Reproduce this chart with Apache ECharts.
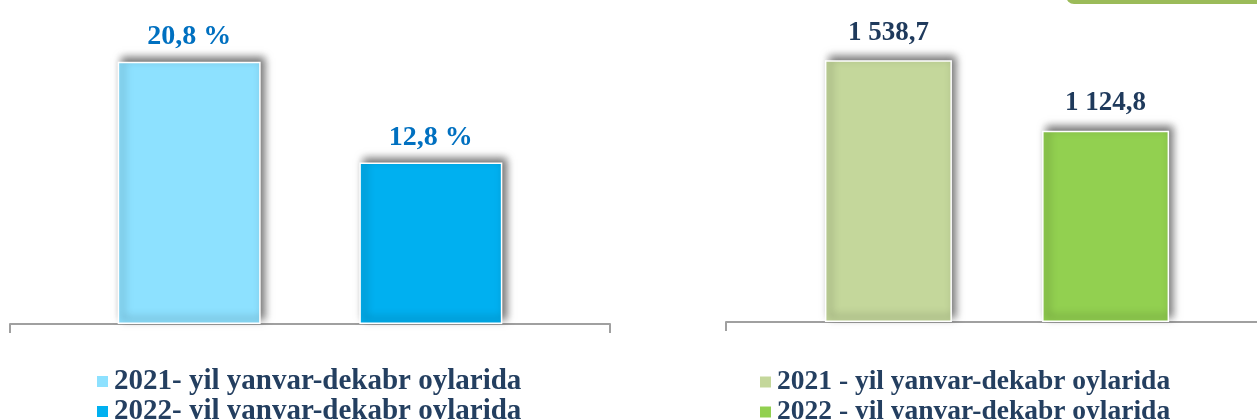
<!DOCTYPE html>
<html>
<head>
<meta charset="utf-8">
<script src="https://cdn.jsdelivr.net/npm/echarts@6/dist/echarts.min.js"></script>
<style>
  html, body { margin: 0; padding: 0; background: #fff; }
  #main { width: 1257px; height: 419px; }
</style>
</head>
<body>
<div id="main"></div>
<script>
// data
var leftNames = ['2021- yil yanvar-dekabr oylarida', '2022- yil yanvar-dekabr oylarida'];
var leftValues = [20.8, 12.8];
var leftColors = ['#8de1ff', '#00b0f0'];

var rightNames = ['2021 - yil yanvar-dekabr oylarida', '2022 - yil yanvar-dekabr oylarida'];
var rightValues = [1538.7, 1124.8];
var rightColors = ['#c4d79b', '#92d050'];

var categories = [''];

var myChart = echarts.init(document.getElementById('main'));

function fmtPct(p) {
  return String(p.value.toFixed(1)).replace('.', ',') + ' %';
}
function fmtNum(p) {
  var parts = p.value.toFixed(1).split('.');
  var intPart = parts[0].replace(/\B(?=(\d{3})+(?!\d))/g, ' ');
  return intPart + ',' + parts[1];
}

var fontFam = '"Liberation Serif", "Times New Roman", serif';

function barItem(color) {
  return {
    color: color,
    borderColor: '#ffffff',
    borderWidth: 1.5,
    shadowColor: 'rgba(0,0,0,0.55)',
    shadowBlur: 8,
    shadowOffsetX: 4,
    shadowOffsetY: -4
  };
}

var series = [];
leftNames.forEach(function (n, i) {
  series.push({
    name: n,
    type: 'bar',
    xAxisIndex: 0,
    yAxisIndex: 0,
    barWidth: 143,
    barGap: '69%',
    data: [leftValues[i]],
    itemStyle: barItem(leftColors[i]),
    label: {
      show: true,
      position: 'top',
      distance: 11,
      formatter: fmtPct,
      color: '#0070c0',
      fontFamily: fontFam,
      fontWeight: 'bold',
      fontSize: 28
    }
  });
});
rightNames.forEach(function (n, i) {
  series.push({
    name: n,
    type: 'bar',
    xAxisIndex: 1,
    yAxisIndex: 1,
    barWidth: 127,
    barGap: '71%',
    data: [rightValues[i]],
    itemStyle: barItem(rightColors[i]),
    label: {
      show: true,
      position: 'top',
      distance: 14,
      formatter: fmtNum,
      color: '#1f3a5c',
      fontFamily: fontFam,
      fontWeight: 'bold',
      fontSize: 27
    }
  });
});

// one legend per row
function legendRow(name, left, top, size) {
  return {
    data: [name],
    left: left,
    top: top,
    icon: 'rect',
    itemWidth: 13,
    itemHeight: 13,
    itemGap: 6,
    textStyle: {
      color: '#243f60',
      fontFamily: fontFam,
      fontWeight: 'bold',
      fontSize: size
    }
  };
}

var option = {
  animation: false,
  graphic: [{
    type: 'rect',
    shape: { x: 1066, y: -12, width: 210, height: 16, r: 9 },
    style: { fill: '#9bbb59' }
  }],
  legend: [
    legendRow(leftNames[0], 90, 362, 29),
    legendRow(leftNames[1], 90, 392, 29),
    legendRow(rightNames[0], 753, 363, 27.5),
    legendRow(rightNames[1], 753, 393, 27.5)
  ],
  grid: [
    { left: 10, top: 20, width: 600, bottom: 95, outerBoundsMode: 'none' },
    { left: 726, top: 20, right: -11, bottom: 97, outerBoundsMode: 'none' }
  ],
  xAxis: [{
    type: 'category',
    gridIndex: 0,
    data: categories,
    axisLine: { lineStyle: { color: '#a0a0a0', width: 2 } },
    axisTick: { show: true, length: 9, lineStyle: { color: '#a0a0a0', width: 2 } },
    axisLabel: { show: false }
  }, {
    type: 'category',
    gridIndex: 1,
    data: categories,
    axisLine: { lineStyle: { color: '#a0a0a0', width: 2 } },
    axisTick: { show: true, length: 9, lineStyle: { color: '#a0a0a0', width: 2 } },
    axisLabel: { show: false }
  }],
  yAxis: [{
    type: 'value',
    gridIndex: 0,
    min: 0,
    max: 24.1,
    show: false,
    splitLine: { show: false }
  }, {
    type: 'value',
    gridIndex: 1,
    min: 0,
    max: 1776,
    show: false,
    splitLine: { show: false }
  }],
  series: series
};

myChart.setOption(option);
</script>
</body>
</html>
